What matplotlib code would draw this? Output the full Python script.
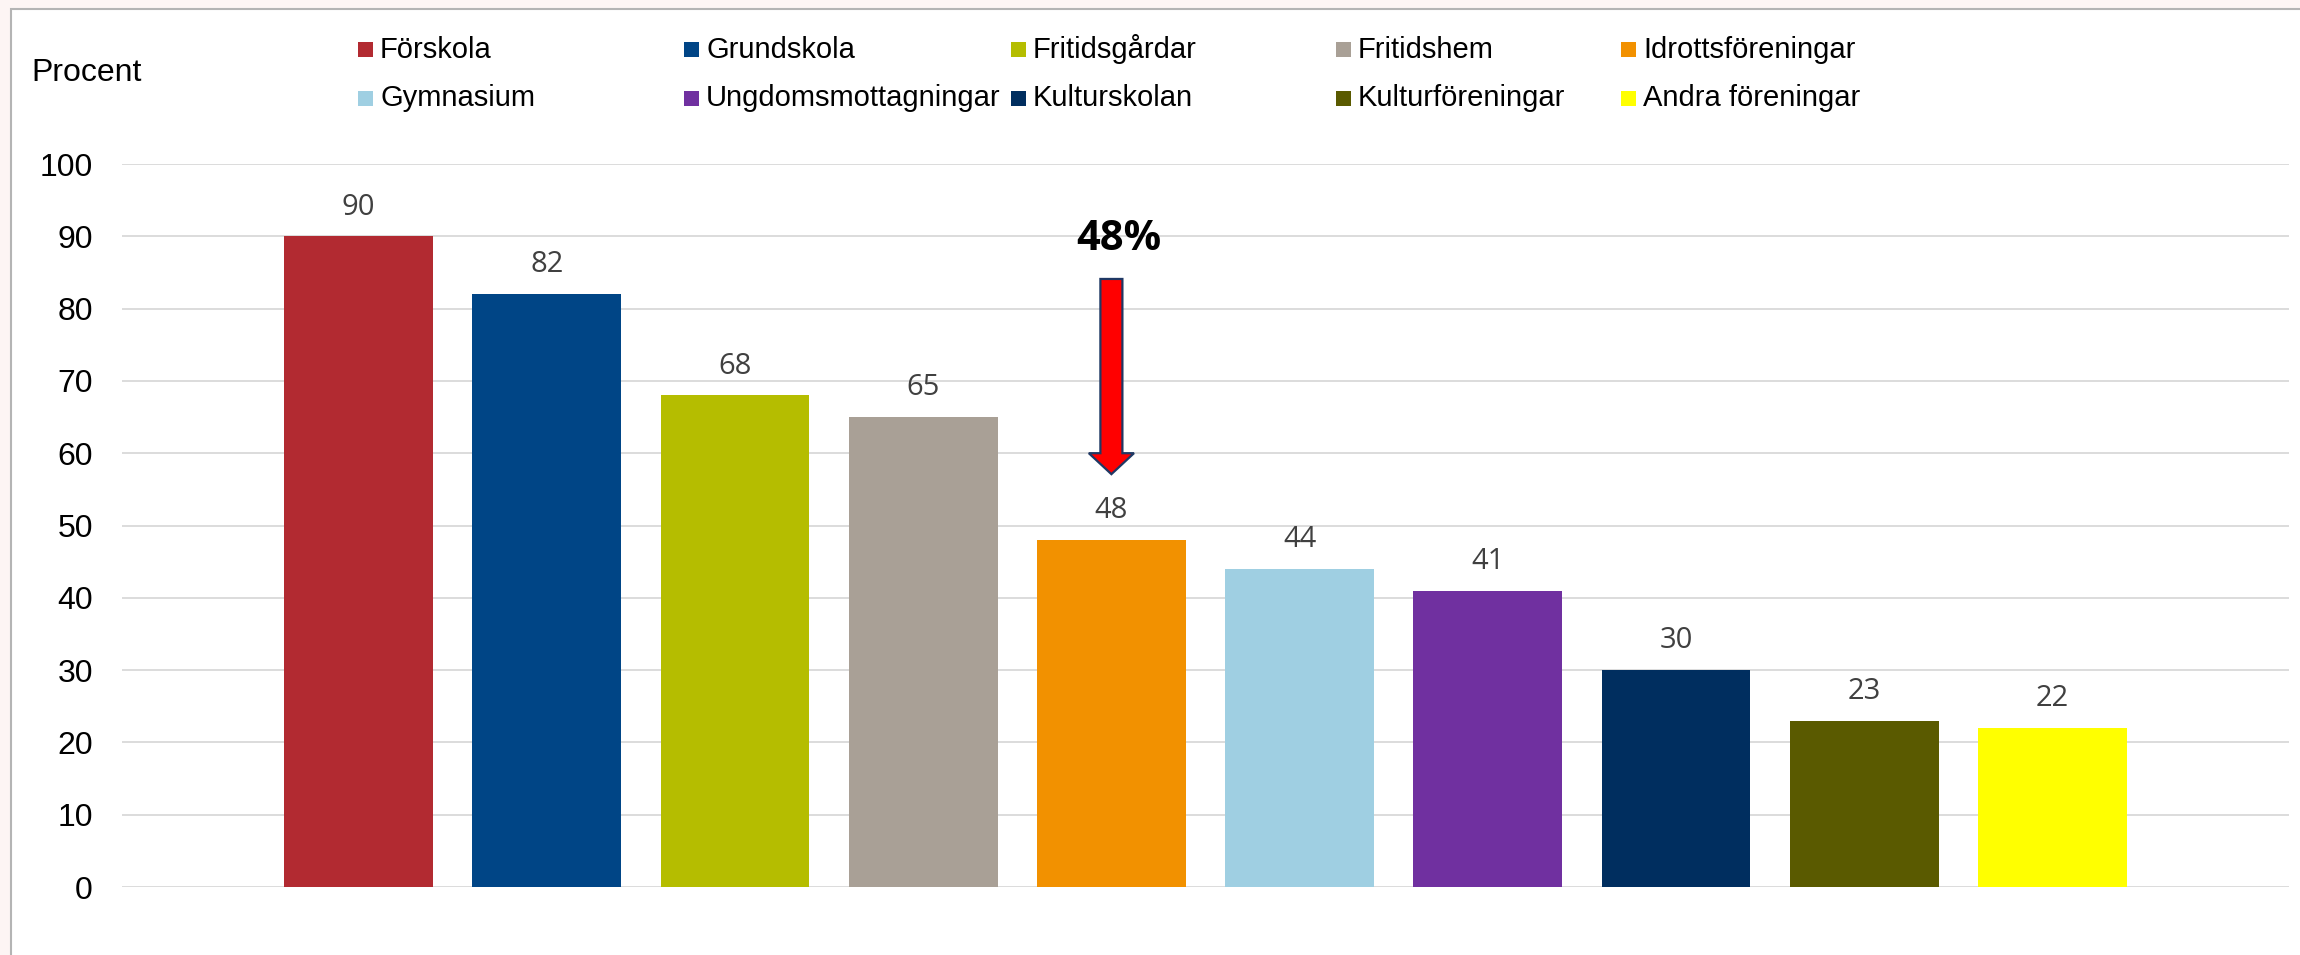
# -*- coding: utf-8 -*-
import matplotlib
matplotlib.use("Agg")

import matplotlib.pyplot as plt
from matplotlib.patches import Rectangle, FancyArrow

# data
categories = ["Förskola", "Grundskola", "Fritidsgårdar", "Fritidshem",
              "Idrottsföreningar", "Gymnasium", "Ungdomsmottagningar",
              "Kulturskolan", "Kulturföreningar", "Andra föreningar"]
values = [90, 82, 68, 65, 48, 44, 41, 30, 23, 22]
colors = ["#B22A31", "#004586", "#B5BD00", "#A9A096", "#F29100",
          "#9FCFE2", "#7030A0", "#002E5F", "#5A5A00", "#FFFF00"]
yticks = [0, 10, 20, 30, 40, 50, 60, 70, 80, 90, 100]
highlight_idx = 4
highlight_text = "48%"

W, H = 2300, 955
fig = plt.figure(figsize=(W / 100, H / 100), dpi=100)
fig.patch.set_facecolor("#fdf5f4")

# white chart area with grey border on left/top
frame = Rectangle((11 / W, -0.02), 1.1, (H - 9) / H + 0.02, transform=fig.transFigure,
                  facecolor="white", edgecolor="#b4b4b4", linewidth=1.5, zorder=0)
fig.add_artist(frame)

ax = fig.add_axes([122 / W, 1 - 887 / H, (2289 - 122) / W, (887 - 164) / H])
ax.set_facecolor("none")

x = list(range(len(values)))
bars = ax.bar(x, values, width=0.79, color=colors, zorder=2)

for xi, v in zip(x, values):
    ax.annotate(str(v), (xi, v), xytext=(0, 21), textcoords="offset points",
                ha="center", va="center", fontsize=21, color="#404040",
                family="Open Sans")

ax.set_xlim(-1.257, len(values) - 1 + 1.257)
ax.set_ylim(0, 100)
ax.set_yticks(yticks)
ax.set_xticks([])
ax.yaxis.grid(True, color="#d9d9d9", linewidth=1.3, zorder=0)
ax.set_axisbelow(True)
for s in ax.spines.values():
    s.set_visible(False)
ax.tick_params(axis="y", length=0, pad=21, labelsize=23)
for label in ax.get_yticklabels():
    label.set_family("Liberation Sans")

# arrow pointing to highlighted bar
ax.add_patch(FancyArrow(highlight_idx, 84.1, 0, -27.0, width=0.117, head_width=0.24,
                        head_length=2.9, length_includes_head=True,
                        facecolor="#ff0000", edgecolor="#1f3864", linewidth=1.6,
                        zorder=4))
ax.text(highlight_idx + 0.04, 89.5, highlight_text, ha="center", va="center",
        fontsize=30, fontweight="bold", family="Open Sans", color="black")

# y label
fig.text(31 / W, 1 - 73 / H, "Procent", ha="left", va="center", fontsize=23,
         family="Liberation Sans")

# legend
col_x = [358, 684, 1011, 1336, 1621]
row_y = [49.5, 98.5]
for i, (name, c) in enumerate(zip(categories, colors)):
    mx = col_x[i % 5]
    my = row_y[i // 5]
    fig.add_artist(Rectangle((mx / W, 1 - (my + 7.5) / H), 15 / W, 15 / H,
                             transform=fig.transFigure, facecolor=c,
                             edgecolor="none"))
    fig.text((mx + 22) / W, 1 - my / H, name, ha="left", va="center",
             fontsize=21, family="Liberation Sans")

plt.savefig("out.png", dpi=100, facecolor=fig.get_facecolor())
